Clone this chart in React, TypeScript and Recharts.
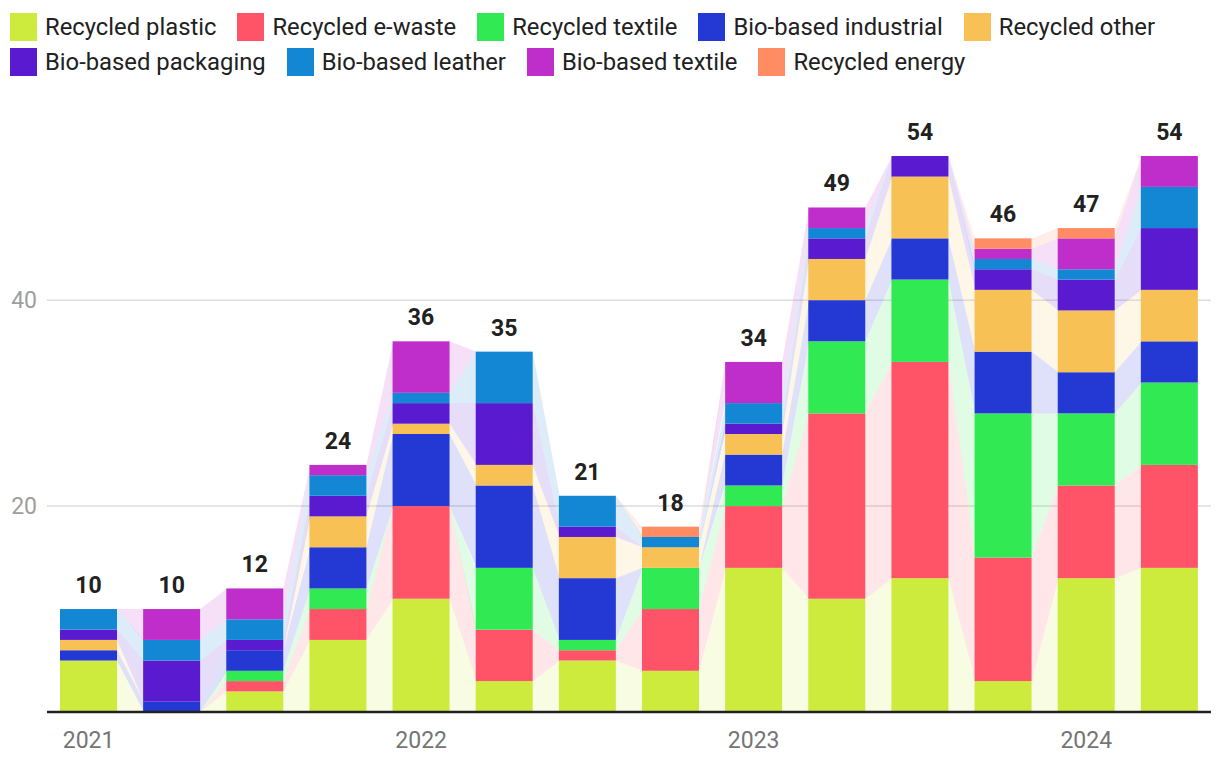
import React from 'react';
import { ComposedChart, Bar, XAxis, YAxis, CartesianGrid } from 'recharts';

// ---- Data ----
const QUARTERS = [
  '2021 Q1', '2021 Q2', '2021 Q3', '2021 Q4',
  '2022 Q1', '2022 Q2', '2022 Q3', '2022 Q4',
  '2023 Q1', '2023 Q2', '2023 Q3', '2023 Q4',
  '2024 Q1', '2024 Q2',
];
const YEAR_LABELS = ['2021', '', '', '', '2022', '', '', '', '2023', '', '', '', '2024', ''];

const RECYCLED_PLASTIC = [5, 0, 2, 7, 11, 3, 5, 4, 14, 11, 13, 3, 13, 14];
const RECYCLED_EWASTE = [0, 0, 1, 3, 9, 5, 1, 6, 6, 18, 21, 12, 9, 10];
const RECYCLED_TEXTILE = [0, 0, 1, 2, 0, 6, 1, 4, 2, 7, 8, 14, 7, 8];
const BIO_INDUSTRIAL = [1, 1, 2, 4, 7, 8, 6, 0, 3, 4, 4, 6, 4, 4];
const RECYCLED_OTHER = [1, 0, 0, 3, 1, 2, 4, 2, 2, 4, 6, 6, 6, 5];
const BIO_PACKAGING = [1, 4, 1, 2, 2, 6, 1, 0, 1, 2, 2, 2, 3, 6];
const BIO_LEATHER = [2, 2, 2, 2, 1, 5, 3, 1, 2, 1, 0, 1, 1, 4];
const BIO_TEXTILE = [0, 3, 3, 1, 5, 0, 0, 0, 4, 2, 0, 1, 3, 3];
const RECYCLED_ENERGY = [0, 0, 0, 0, 0, 0, 0, 1, 0, 0, 0, 1, 1, 0];

const SERIES_NAMES = [
  'Recycled plastic', 'Recycled e-waste', 'Recycled textile', 'Bio-based industrial',
  'Recycled other', 'Bio-based packaging', 'Bio-based leather', 'Bio-based textile',
  'Recycled energy',
];
const SERIES_VALUES = [
  RECYCLED_PLASTIC, RECYCLED_EWASTE, RECYCLED_TEXTILE, BIO_INDUSTRIAL,
  RECYCLED_OTHER, BIO_PACKAGING, BIO_LEATHER, BIO_TEXTILE, RECYCLED_ENERGY,
];
const SERIES_COLORS = [
  '#CCEB3C', '#FF5468', '#31EA53', '#2439D4', '#F7C155',
  '#5A1BD0', '#1387D4', '#BF2ECB', '#FF8C63',
];
const Y_TICKS = [0, 20, 40];
const GRID_VALUES = [20, 40];

const LEGEND_ROW_1 = [0, 1, 2, 3, 4];
const LEGEND_ROW_2 = [5, 6, 7, 8];

// ---- Derived table ----
const KEYS = SERIES_NAMES.map((_, i) => `s${i}`);
const TOTALS = QUARTERS.map((_, qi) => SERIES_VALUES.reduce((a, s) => a + s[qi], 0));
const Y_MAX = Math.max(...TOTALS);
const DATA = QUARTERS.map((q, qi) => {
  const row: any = { q, year: YEAR_LABELS[qi] };
  SERIES_VALUES.forEach((s, si) => { row[KEYS[si]] = s[qi]; });
  return row;
});

const FONT = 'Roboto, "Noto Sans", Arial, sans-serif';
const GAP = 13; // barCategoryGap in px (each side)
const BAND_OPACITY = 0.15;

const cumBelow = (si: number, qi: number) => {
  let s = 0;
  for (let k = 0; k < si; k++) s += SERIES_VALUES[k][qi];
  return s;
};
const topSeries = (qi: number) => {
  let top = -1;
  SERIES_VALUES.forEach((s, si) => { if (s[qi] > 0) top = si; });
  return top;
};

const makeShape = (si: number) => (props: any) => {
  const { x, y, width, height } = props;
  let index = props.index;
  if (index === undefined || index === null) index = DATA.indexOf(props.payload);
  const vals = SERIES_VALUES[si];
  const v = vals[index];
  const color = SERIES_COLORS[si];
  if (!(v > 0) || !(height > 0)) return <g />;
  const unit = height / v;
  const zero = y + height + cumBelow(si, index) * unit;
  const py = (val: number) => zero - val * unit;
  const parts: any[] = [];
  parts.push(<rect key="r" x={x} y={y} width={width} height={height} fill={color} />);
  if (index < QUARTERS.length - 1) {
    const nx = x + width + 2 * GAP;
    const nlo = cumBelow(si, index + 1);
    const nhi = nlo + vals[index + 1];
    parts.push(
      <polygon
        key="n"
        points={`${x + width},${y} ${x + width},${y + height} ${nx + 1},${py(nlo)} ${nx + 1},${py(nhi)}`}
        fill={color}
        fillOpacity={BAND_OPACITY}
      />
    );
  }
  if (index > 0 && vals[index - 1] === 0) {
    const px = x - 2 * GAP;
    const plo = cumBelow(si, index - 1);
    parts.push(
      <polygon
        key="p"
        points={`${px},${py(plo)} ${x},${y + height} ${x},${y}`}
        fill={color}
        fillOpacity={BAND_OPACITY}
      />
    );
  }
  if (topSeries(index) === si) {
    parts.push(
      <text
        key="t"
        x={x + width / 2}
        y={y - 16}
        textAnchor="middle"
        fontFamily={FONT}
        fontWeight={700}
        fontSize={23}
        fill="#212121"
      >
        {TOTALS[index]}
      </text>
    );
  }
  return <g>{parts}</g>;
};

const LegendRow = ({ items, top }: { items: number[]; top: number }) => (
  <div style={{ position: 'absolute', left: 10, top, display: 'flex', alignItems: 'center' }}>
    {items.map((si) => (
      <div key={si} style={{ display: 'flex', alignItems: 'center', marginRight: 21 }}>
        <div style={{ width: 27, height: 28, background: SERIES_COLORS[si], marginRight: 8 }} />
        <span style={{ fontFamily: FONT, fontSize: 23.8, color: '#212121', lineHeight: '28px', whiteSpace: 'nowrap' }}>
          {SERIES_NAMES[si]}
        </span>
      </div>
    ))}
  </div>
);

export default function App() {
  return (
    <div style={{ position: 'absolute', left: 0, top: 0, width: 1220, height: 770, background: '#fff' }}>
      <LegendRow items={LEGEND_ROW_1} top={13} />
      <LegendRow items={LEGEND_ROW_2} top={48} />
      <div style={{ position: 'absolute', left: 0, top: 0 }}>
        <ComposedChart
          width={1220}
          height={770}
          data={DATA}
          margin={{ top: 156, right: 9, bottom: 0, left: 0 }}
          barCategoryGap={GAP}
        >
          <CartesianGrid
            vertical={false}
            horizontalValues={GRID_VALUES}
            stroke="#dedede"
            strokeWidth={1.5}
          />
          <YAxis
            width={47}
            domain={[0, Y_MAX]}
            ticks={Y_TICKS}
            axisLine={false}
            tickLine={false}
            tickMargin={4}
            tickFormatter={(v: number) => (v === 0 ? '' : String(v))}
            tick={{ fill: '#9e9e9e', fontSize: 23, fontFamily: FONT }}
          />
          <XAxis
            dataKey="q"
            height={58}
            interval={0}
            axisLine={{ stroke: '#212121', strokeWidth: 2.5 }}
            tickLine={false}
            tickMargin={14}
            tickFormatter={(_v: any, i: number) => YEAR_LABELS[i]}
            tick={{ fill: '#757575', fontSize: 23, fontFamily: FONT }}
          />
          {KEYS.map((k, si) => (
            <Bar
              key={k}
              dataKey={k}
              name={SERIES_NAMES[si]}
              stackId="a"
              fill={SERIES_COLORS[si]}
              isAnimationActive={false}
              shape={makeShape(si)}
            />
          ))}
        </ComposedChart>
      </div>
    </div>
  );
}
